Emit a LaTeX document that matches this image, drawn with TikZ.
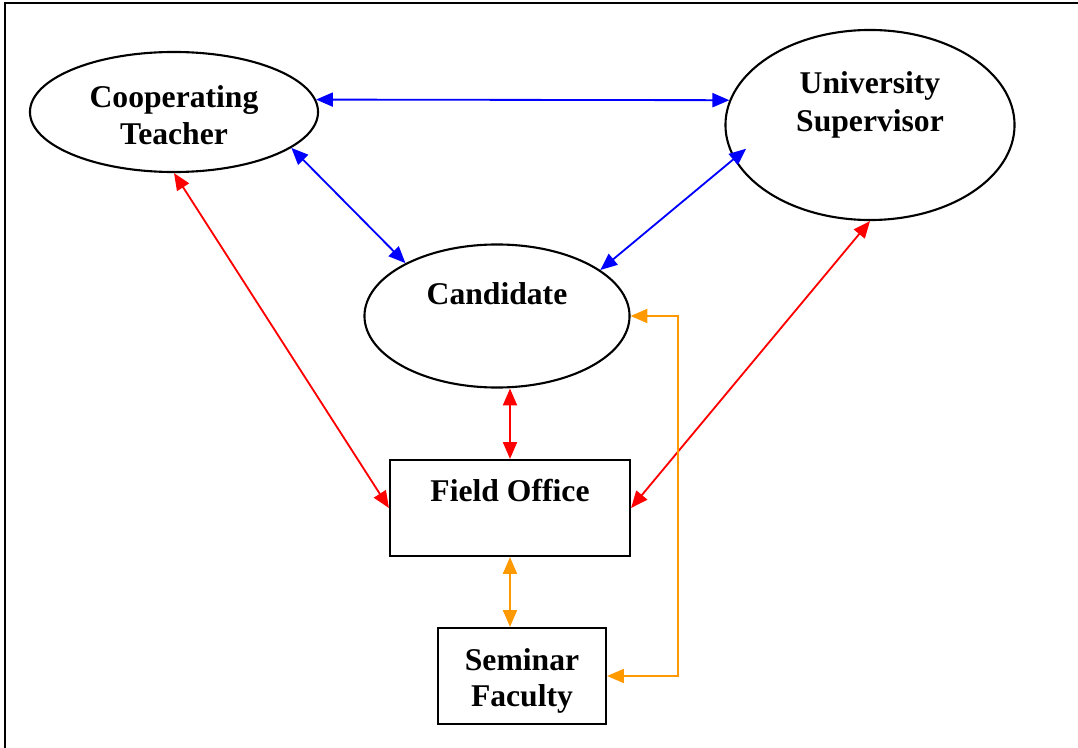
\documentclass[tikz,border=0pt]{standalone}
\usepackage{fontspec}
\setmainfont{Liberation Serif}
\usetikzlibrary{arrows.meta, shapes.geometric, positioning, calc}
\definecolor{LinkBlue}{RGB}{0,0,255}
\definecolor{LinkRed}{RGB}{255,0,0}
\definecolor{LinkOrange}{RGB}{255,153,0}

\tikzset{
    oval/.style={shape=ellipse, draw=black, line width=1.5pt, inner sep=0pt},
    box/.style={shape=rectangle, draw=black, line width=1.5pt, inner sep=0pt},
    txt/.style={font=\bfseries\fontsize{22.5}{26}\selectfont, align=center, inner sep=0pt},
    link/.style={line width=1.3pt, {Triangle[length=12pt,width=10pt]}-{Triangle[length=12pt,width=10pt]}},
}

\begin{document}
\begin{tikzpicture}[x=0.025cm, y=-0.025cm]
    \useasboundingbox (0,0) rectangle (1078,748);
    \draw[line width=1.4pt] (5,748) -- (5,3) -- (1078,3);

    \node[oval, minimum width=7.2cm, minimum height=3cm,
          label={[txt, name=teacherText, yshift=-0.08cm]center:Cooperating\\Teacher}] (teacher) at (174,112) {};
    \node[oval, minimum width=7.225cm, minimum height=4.75cm,
          label={[txt, name=superText, yshift=0.5cm, font=\bfseries\fontsize{22.5}{27.5}\selectfont]center:University\\Supervisor}] (super) at (870,125) {};
    \node[oval, minimum width=6.625cm, minimum height=3.575cm,
          label={[txt, name=candText, yshift=0.57cm]center:Candidate}] (cand) at (497,316) {};
    \node[box, minimum width=6cm, minimum height=2.4cm,
          label={[txt, name=officeText, yshift=0.43cm]center:Field Office}] (office) at (510,508) {};
    \node[box, minimum width=4.2cm, minimum height=2.4cm,
          label={[txt, name=seminarText, yshift=-0.12cm]center:Seminar\\Faculty}] (seminar) at (522,676) {};
    \coordinate (elbow) at (678,316);

    \draw[link, LinkBlue]   (teacher.5)   -- (super.170);
    \draw[link, LinkBlue]   (teacher.-17) -- (cand.150);
    \draw[link, LinkBlue, shorten <=-0.4cm] (super.194) -- (cand.24);
    \draw[link, LinkRed]    (teacher.south) -- (office.west);
    \draw[link, LinkRed]    (super.south)   -- (office.east);
    \draw[link, LinkRed]    (office.north)  -- (office.north |- cand.south);
    \draw[link, LinkOrange] (office.south)  -- (office.south |- seminar.north);
    \draw[link, LinkOrange] (cand.east) -- (elbow) |- (seminar.east);
\end{tikzpicture}
\end{document}
